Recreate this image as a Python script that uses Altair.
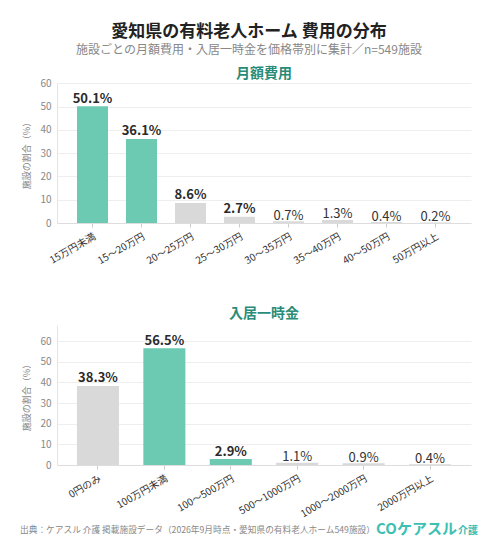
import altair as alt
import pandas as pd

FONT = "Noto Sans CJK JP"
TEAL = "#6DCAB2"
GREY = "#D9D9D9"
TITLE_TEAL = "#2A8C78"

monthly_labels = ["15万円未満", "15〜20万円", "20〜25万円", "25〜30万円", "30〜35万円", "35〜40万円", "40〜50万円", "50万円以上"]
monthly_values = [50.1, 36.1, 8.6, 2.7, 0.7, 1.3, 0.4, 0.2]
monthly_highlight = [True, True, False, False, False, False, False, False]

entry_labels = ["0円のみ", "100万円未満", "100〜500万円", "500〜1000万円", "1000〜2000万円", "2000万円以上"]
entry_values = [38.3, 56.5, 2.9, 1.1, 0.9, 0.4]
entry_highlight = [False, True, True, False, False, False]

footer_note = "出典：ケアスル 介護 掲載施設データ（2026年9月時点・愛知県の有料老人ホーム549施設）"


def make_df(labels, values, hl):
    df = pd.DataFrame({"cat": labels, "val": values, "hl": hl})
    df["lab"] = df["val"].map(lambda v: f"{v:.1f}%")
    df["small"] = df["val"] < 2
    return df


df1 = make_df(monthly_labels, monthly_values, monthly_highlight)
df2 = make_df(entry_labels, entry_values, entry_highlight)


def panel(df, order, title, ymax, height, toff, pin, pout):
    base = alt.Chart(df).encode(
        x=alt.X("cat:N", sort=order, title=None,
                scale=alt.Scale(paddingInner=pin, paddingOuter=pout),
                axis=alt.Axis(labelAngle=-30, labelAlign="right", labelBaseline="top",
                              labelFontSize=10, labelColor="#333", labelFont=FONT,
                              domainColor="#ddd", tickColor="#ccc", tickSize=4,
                              labelPadding=4)),
        y=alt.Y("val:Q", title="施設の割合（%）",
                scale=alt.Scale(domain=[0, ymax], nice=False),
                axis=alt.Axis(values=list(range(0, int(ymax) + 1, 10)), labelFontSize=10,
                              labelColor="#888", labelFont=FONT, titleFont=FONT,
                              titleFontSize=9, titleColor="#888", titleFontWeight="normal",
                              gridColor="#eeeeee", domainColor="#e4e4e4", tickSize=0,
                              labelPadding=6, titlePadding=8)),
    )
    bars = base.mark_bar().encode(
        color=alt.Color("hl:N", scale=alt.Scale(domain=[True, False], range=[TEAL, GREY]), legend=None)
    )
    big = base.transform_filter("!datum.small").mark_text(
        dy=-3.5, baseline="alphabetic", fontSize=13, fontWeight="bold",
        color="#2b2b2b", font=FONT).encode(text="lab:N")
    small = base.transform_filter("datum.small").mark_text(
        dy=-1.5, baseline="alphabetic", fontSize=13, fontWeight="normal",
        color="#333", font=FONT).encode(text="lab:N")
    return (bars + big + small).properties(
        width=414, height=height,
        title=alt.TitleParams(title, fontSize=14, fontWeight="bold", color=TITLE_TEAL,
                              font=FONT, anchor="middle", offset=toff),
    )


c1 = panel(df1, monthly_labels, "月額費用", 60.12, 140, -3, 0.367, 0.408)
c2 = panel(df2, entry_labels, "入居一時金", 67.8, 140, 4, 0.367, 0.30)

foot_df = pd.DataFrame({"t": [footer_note]})
foot_text = alt.Chart(foot_df).mark_text(align="left", baseline="middle", fontSize=8.7,
                                          color="#888", font=FONT).encode(
    x=alt.value(-37), y=alt.value(11), text="t:N")
logo_icon = alt.Chart(pd.DataFrame({"t": ["CO"]})).mark_text(
    align="left", baseline="middle", fontSize=15, fontWeight="bold", color="#3CC0B4", font=FONT
).encode(x=alt.value(319), y=alt.value(10), text="t:N")
logo_text = alt.Chart(pd.DataFrame({"t": ["ケアスル"]})).mark_text(
    align="left", baseline="middle", fontSize=15, fontWeight="bold", color="#3CC0B4", font=FONT
).encode(x=alt.value(340), y=alt.value(10), text="t:N")
logo_sub = alt.Chart(pd.DataFrame({"t": ["介護"]})).mark_text(
    align="left", baseline="middle", fontSize=10, fontWeight="bold", color="#3CC0B4", font=FONT
).encode(x=alt.value(401), y=alt.value(12), text="t:N")
footer = (foot_text + logo_icon + logo_text + logo_sub).properties(width=414, height=20)

charts = alt.vconcat(c1, c2, spacing=41)

chart = alt.vconcat(charts, footer, spacing=0).properties(
    title=alt.TitleParams("愛知県の有料老人ホーム 費用の分布",
                          subtitle="施設ごとの月額費用・入居一時金を価格帯別に集計／n=549施設",
                          fontSize=17, fontWeight="bold", color="#222", font=FONT,
                          subtitleFont=FONT, subtitleFontSize=12, subtitleColor="#888",
                          anchor="middle", offset=10, subtitlePadding=4),
    background="white",
    padding={"left": 12, "right": 5, "top": 15, "bottom": 2},
).configure_view(stroke=None)

chart.save("out.html", embed_options={"renderer": "svg", "actions": False})
